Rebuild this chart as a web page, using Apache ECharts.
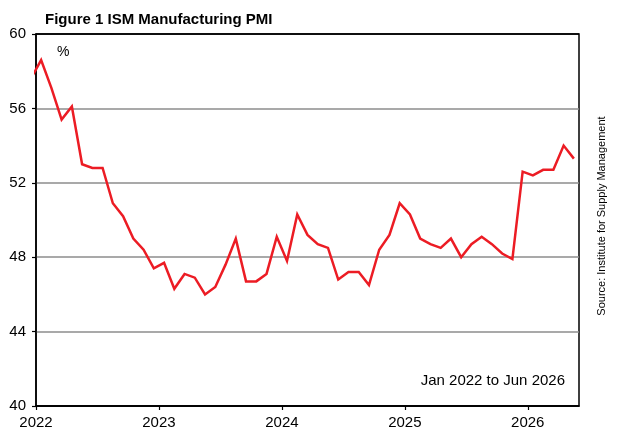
<!DOCTYPE html>
<html>
<head>
<meta charset="utf-8">
<script src="https://cdn.jsdelivr.net/npm/echarts@6/dist/echarts.min.js"></script>
<style>
  html, body { margin: 0; padding: 0; background: #fff; }
  #chart { width: 621px; height: 441px; }
</style>
</head>
<body>
<div id="chart"></div>
<script>
// ISM Manufacturing PMI, monthly, Jan 2022 .. Jun 2026
const START_YEAR = 2022
const pmi = [
  57.6, 58.6, 57.1, 55.4, 56.1, 53.0, 52.8, 52.8, 50.9, 50.2, 49.0, 48.4, // 2022
  47.4, 47.7, 46.3, 47.1, 46.9, 46.0, 46.4, 47.6, 49.0, 46.7, 46.7, 47.1, // 2023
  49.1, 47.8, 50.3, 49.2, 48.7, 48.5, 46.8, 47.2, 47.2, 46.5, 48.4, 49.2, // 2024
  50.9, 50.3, 49.0, 48.7, 48.5, 49.0, 48.0, 48.7, 49.1, 48.7, 48.2, 47.9, // 2025
  52.6, 52.4, 52.7, 52.7, 54.0, 53.3,                                     // 2026
]
const yTicks = [40, 44, 48, 52, 56, 60]

const FONT = "'Liberation Sans', Arial, sans-serif"

// points sit half a month left of the month boundary, axis runs to Jun 2026
const points = pmi.map((v, i) => [i - 0.5, v])

const chart = echarts.init(document.getElementById('chart'), null, { renderer: 'canvas' })

chart.setOption({
  animation: false,
  backgroundColor: '#fff',
  grid: {
    left: 36, right: 42, top: 34, bottom: 35,
    show: true,
    borderColor: '#000',
    borderWidth: 1.5,
  },
  xAxis: {
    type: 'value',
    min: 0,
    max: pmi.length - 1,
    interval: 12,
    axisLine: { show: true, lineStyle: { color: '#000', width: 1.5 } },
    axisTick: { show: true, length: 4, lineStyle: { color: '#000', width: 1.2 } },
    axisLabel: {
      color: '#000', fontFamily: FONT, fontSize: 15, margin: 9,
      showMaxLabel: false,
      formatter: v => (v % 12 === 0 ? String(START_YEAR + v / 12) : ''),
    },
    splitLine: { show: false },
  },
  yAxis: {
    type: 'value',
    min: yTicks[0],
    max: yTicks[yTicks.length - 1],
    interval: 4,
    axisLine: { show: true, lineStyle: { color: '#000', width: 1.5 } },
    axisTick: { show: true, length: 4, lineStyle: { color: '#000', width: 1.2 } },
    axisLabel: { color: '#000', fontFamily: FONT, fontSize: 15, margin: 10 },
    splitLine: {
      show: true,
      lineStyle: {
        color: yTicks.map((t, i) => (i === 0 || i === yTicks.length - 1 ? '#000' : '#8c8c8c')),
        width: 1.5,
      },
    },
  },
  graphic: [
    {
      type: 'text', left: 45, top: 12,
      style: { text: 'Figure 1 ISM Manufacturing PMI', fill: '#000', font: "bold 15px " + FONT },
    },
    {
      type: 'text', left: 57, top: 45,
      style: { text: '%', fill: '#000', font: "14px " + FONT },
    },
    {
      type: 'text', x: 565, y: 381,
      style: { text: 'Jan 2022 to Jun 2026', fill: '#000', font: "15px " + FONT, align: 'right', verticalAlign: 'middle' },
    },
    {
      type: 'text', x: 602, y: 216, rotation: Math.PI / 2,
      style: { text: 'Source: Institute for Supply Management', fill: '#000', font: "11px " + FONT, align: 'center', verticalAlign: 'middle' },
    },
  ],
  series: [
    {
      type: 'line',
      data: points,
      showSymbol: false,
      clip: true,
      lineStyle: { color: '#ec1c24', width: 2.5, join: 'miter' },
    },
  ],
})
</script>
</body>
</html>
